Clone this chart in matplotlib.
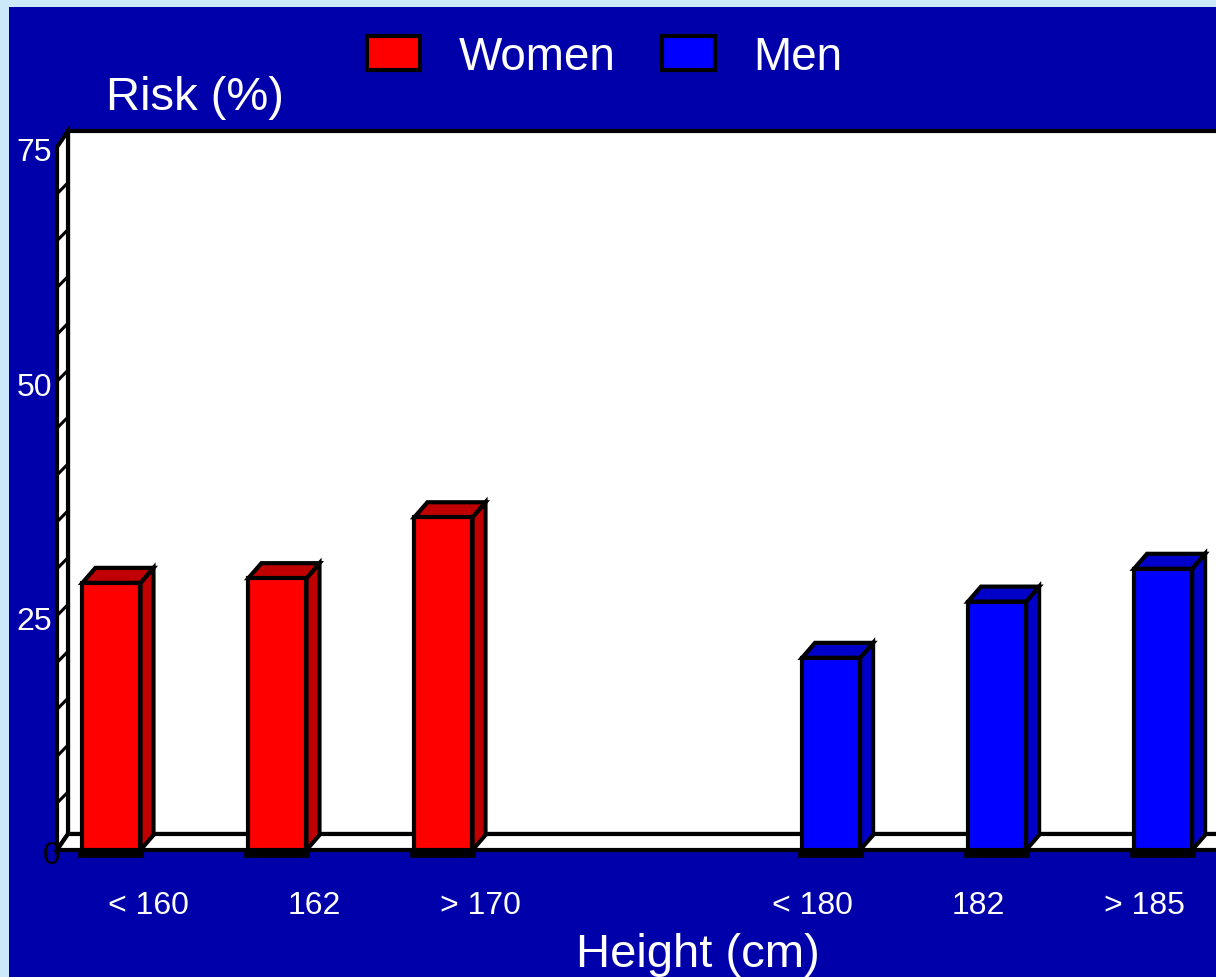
import matplotlib.pyplot as plt
from matplotlib.patches import Polygon, Rectangle
from matplotlib.transforms import offset_copy
import numpy as np

# data
categories = ['< 160', '162', '> 170', '< 180', '182', '> 185']
cat_pos = [0, 1, 2, 4, 5, 6]
women_pos = [0, 1, 2]
women = [28.5, 29.0, 35.5]
men_pos = [4, 5, 6]
men = [20.5, 26.5, 30.0]
yticks = [0, 25, 50, 75]

plt.rcParams['font.family'] = ['Liberation Sans', 'DejaVu Sans']

W, H = 1216, 978
fig = plt.figure(figsize=(W / 100, H / 100), dpi=100)
fig.patch.set_facecolor('#cce9fb')
fig.patches.append(Rectangle((9 / W, 0), 1, (H - 8) / H, transform=fig.transFigure,
                             facecolor='#0000aa', edgecolor='none', zorder=-10))

ax_left, ax_right = 57, 1260          # pixels
ax_bottom, ax_top = 851, 148          # pixels from top
XMIN = -0.548
XMAX = XMIN + (ax_right - ax_left) / 166
ax = fig.add_axes([ax_left / W, (H - ax_bottom) / H,
                   (ax_right - ax_left) / W, (ax_bottom - ax_top) / H])
ax.set_xlim(XMIN, XMAX)
ax.set_ylim(0, 75)
ax.patch.set_visible(False)
for s in ax.spines.values():
    s.set_visible(False)

# pixel -> data conversion for the fake depth
px_x = (XMAX - XMIN) / (ax_right - ax_left)
px_y = 75 / (ax_bottom - ax_top)


def depth(dx, dy):
    return dx * px_x, dy * px_y


# walls and floor
wdx, wdy = depth(11, 16)
lw = 3
ax.add_patch(Polygon([(XMIN + wdx, wdy), (XMAX + wdx, wdy), (XMAX + wdx, 75 + wdy),
                      (XMIN + wdx, 75 + wdy)], closed=True, facecolor='white',
                     edgecolor='black', lw=lw, zorder=1, clip_on=False))
ax.add_patch(Polygon([(XMIN, 0), (XMIN, 75), (XMIN + wdx, 75 + wdy), (XMIN + wdx, wdy)],
                     closed=True, facecolor='white', edgecolor='black', lw=lw,
                     zorder=2, clip_on=False))
ax.add_patch(Polygon([(XMIN, 0), (XMAX, 0), (XMAX + wdx, wdy), (XMIN + wdx, wdy)],
                     closed=True, facecolor='white', edgecolor='black', lw=lw,
                     zorder=2, clip_on=False))
for v in np.arange(5, 75, 5):
    ax.plot([XMIN, XMIN + wdx], [v, v + wdy * 0.7], color='black', lw=2.2,
            zorder=2.5, clip_on=False)

# bars
bw = 0.35
bdx, bdy = depth(13, 15)
bottom_line = offset_copy(ax.transData, fig=fig, y=-4, units='dots')


def bars3d(xs, vals, off, face, side):
    xs = np.asarray(xs, dtype=float) + off
    for x, h in zip(xs, vals):
        x0, x1 = x - bw / 2, x + bw / 2
        ax.add_patch(Polygon([(x1, 0), (x1, h), (x1 + bdx, h + bdy), (x1 + bdx, bdy)],
                             closed=True, facecolor=side, edgecolor='black', lw=lw,
                             zorder=3, clip_on=False))
        ax.add_patch(Polygon([(x0, h), (x1, h), (x1 + bdx, h + bdy), (x0 + bdx, h + bdy)],
                             closed=True, facecolor=side, edgecolor='black', lw=lw,
                             zorder=3, clip_on=False))
        ax.plot([x0, x1], [0, 0], color='black', lw=5.5, transform=bottom_line,
                zorder=5, clip_on=False, solid_capstyle='projecting')
    return ax.bar(xs, vals, width=bw, color=face, edgecolor='black', lw=lw,
                  zorder=4, clip_on=False)


b1 = bars3d(women_pos, women, -0.22, '#ff0000', '#c00000')
b2 = bars3d(men_pos, men, 0.115, '#0000ff', '#0000c8')

# ticks
ax.set_xticks(cat_pos)
ax.set_xticklabels(categories, color='white', fontsize=23)
ax.set_yticks(yticks[1:])
ax.set_yticklabels([str(t) for t in yticks[1:]], color='white', fontsize=23)
ax.tick_params(axis='x', length=0, pad=29)
ax.tick_params(axis='y', length=0, pad=4)
ylab_shift = offset_copy(ax.get_yaxis_transform(which='tick1'), fig=fig, x=-5, y=-2,
                         units='dots')
for t in ax.get_yticklabels():
    t.set_transform(ylab_shift)
ax.text(XMIN, 0, str(yticks[0]), color='black', fontsize=23, ha='center', va='center',
        transform=offset_copy(ax.transData, fig=fig, x=-5, y=-5, units='dots'))

fig.text(195 / W, 1 - 98 / H, 'Risk (%)', color='white', fontsize=34,
         ha='center', va='center')
fig.text(698 / W, 1 - 955 / H, 'Height (cm)', color='white', fontsize=34,
         ha='center', va='center')

leg = fig.legend([b1, b2], ['Women', 'Men'], loc='center', ncol=2,
                 bbox_to_anchor=(605 / W, 1 - 58 / H), frameon=False, fontsize=33,
                 handlelength=1.15, handleheight=0.75, handletextpad=0.85,
                 columnspacing=1.0, labelcolor='white')

fig.savefig('out.png', dpi=100, facecolor=fig.get_facecolor())
